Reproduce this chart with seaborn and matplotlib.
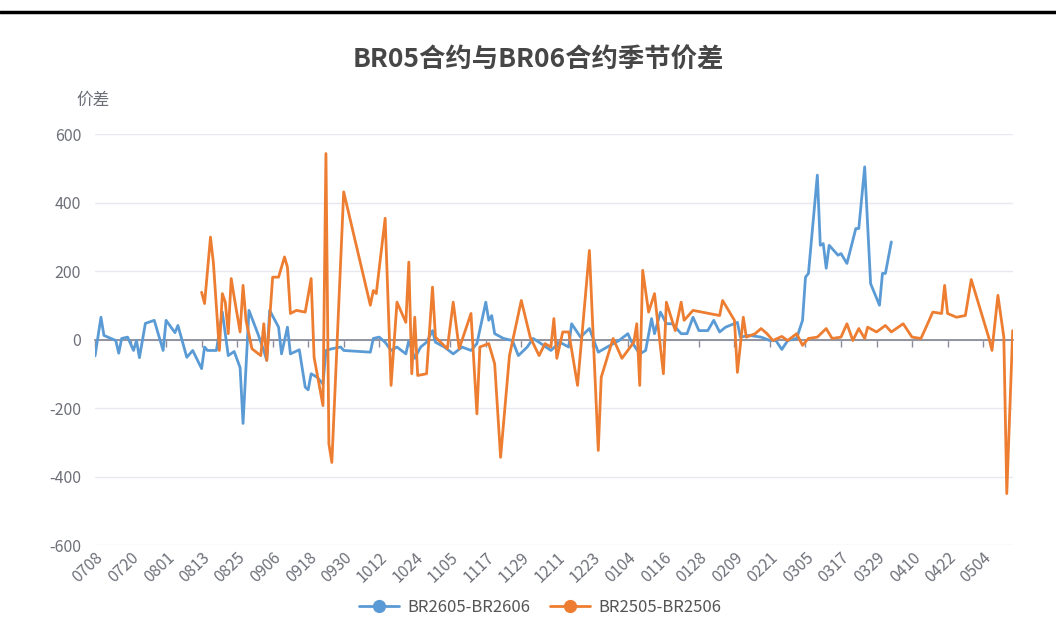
import pandas as pd
import matplotlib.pyplot as plt
from matplotlib.lines import Line2D
import seaborn as sns

# ── DATA ──────────────────────────────────────────────────
# every calendar day on the category axis (MMDD), 0708 .. 0514
DAYS = pd.date_range("2025-07-08", "2026-05-14", freq="D").strftime("%m%d").tolist()

TICK_LABELS = ["0708", "0720", "0801", "0813", "0825", "0906", "0918", "0930",
               "1012", "1024", "1105", "1117", "1129", "1211", "1223", "0104",
               "0116", "0128", "0209", "0221", "0305", "0317", "0329", "0410",
               "0422", "0504"]
Y_TICKS = [-600, -400, -200, 0, 200, 400, 600]

SERIES_NAMES = ["BR2605-BR2606", "BR2505-BR2506"]

BLUE_DATES = [
    "0708", "0710", "0711", "0715", "0716", "0717", "0719", "0721", "0722", "0723", "0725", "0728", "0730", "0731",
    "0801", "0804", "0805", "0808", "0810", "0813", "0814", "0815", "0818", "0820", "0822", "0824", "0826", "0827", "0829",
    "0901", "0903", "0904", "0905", "0908", "0909", "0911", "0912", "0915", "0917", "0918", "0919", "0921", "0923", "0924", "0926", "0929", "0930",
    "1009", "1010", "1012", "1014", "1016", "1018", "1021", "1022", "1024", "1026", "1028", "1030", "1031",
    "1103", "1106", "1109", "1112", "1114", "1117", "1118", "1119", "1120", "1123", "1126", "1128",
    "1201", "1203", "1205", "1209", "1212", "1215", "1216", "1219", "1222", "1225", "1228",
    "0101", "0104", "0105", "0108", "0110", "0112", "0113", "0115", "0117", "0119", "0122", "0124", "0126", "0128", "0131",
    "0202", "0204", "0206", "0210", "0211", "0214", "0218", "0221", "0223", "0225", "0227",
    "0302", "0304", "0305", "0306", "0309", "0310", "0311", "0312", "0313", "0316", "0317", "0319", "0322", "0323", "0325", "0327", "0330", "0331",
    "0401", "0403",
]
BLUE_VALUES = [
    -48, 65, 12, -3, -40, 3, 7, -32, -3, -53, 47, 56, -3, -32,
    56, 20, 41, -52, -32, -85, -22, -32, -32, 80, -47, -35, -82, -245, 85,
    17, -32, -61, 85, 36, -42, 36, -42, -30, -139, -147, -100, -110, -130, -32, -27, -22, -32,
    -37, 3, 7, -8, -32, -22, -42, -3, -55, -22, -8, 26, -8,
    -22, -42, -22, -32, -12, 109, 56, 70, 17, 3, -3, -47,
    -22, 3, -8, -32, -8, -22, 46, 7, 32, -37, -22,
    -3, 17, -3, -42, -32, 61, 17, 80, 46, 46, 17, 17, 65, 26, 26,
    56, 22, 36, 50, 7, 12, 7, -3, -3, -29, -3,
    3, 56, 182, 193, 480, 275, 280, 208, 275, 246, 251, 222, 324, 324, 504, 163, 100, 193,
    193, 285,
]

ORANGE_DATES = [
    "0813", "0814", "0816", "0817", "0819", "0820", "0821", "0822", "0823", "0824", "0826", "0827", "0828", "0830",
    "0902", "0903", "0904", "0906", "0908", "0910", "0911", "0912", "0914", "0917", "0919", "0920", "0923", "0924", "0925", "0926", "0930",
    "1009", "1010", "1011", "1014", "1016", "1018", "1021", "1022", "1023", "1024", "1025", "1028", "1030", "1031",
    "1104", "1106", "1108", "1112", "1114", "1115", "1118", "1120", "1122", "1125", "1129",
    "1202", "1205", "1207", "1209", "1210", "1211", "1213", "1215", "1218", "1222", "1225", "1226", "1230",
    "0102", "0106", "0107", "0108", "0109", "0111", "0113", "0116", "0117", "0120", "0122", "0123", "0126",
    "0204", "0205", "0209", "0210", "0212", "0213", "0216", "0218", "0220", "0222", "0225", "0227",
    "0302", "0304", "0306", "0309", "0312", "0314", "0317", "0319", "0321", "0323", "0325", "0326", "0329",
    "0401", "0403", "0407", "0410", "0413", "0415", "0417", "0420", "0421", "0422", "0425", "0428", "0430",
    "0506", "0507", "0509", "0511", "0512", "0514",
]
ORANGE_VALUES = [
    138, 105, 299, 222, -32, 134, 109, 17, 178, 124, 22, 158, 56, -27,
    -47, 46, -61, 182, 182, 241, 211, 76, 85, 80, 178, -52, -193, 543, -305, -359, 431,
    100, 143, 134, 354, -134, 109, 50, 226, -100, 65, -105, -100, 153, 7,
    -27, 109, -27, 76, -217, -22, -12, -71, -344, -47, 114,
    7, -47, -12, -22, 61, -55, 22, 22, -134, 260, -324, -110, 3,
    -55, -8, 46, -134, 202, 80, 134, -100, 109, 26, 109, 56, 85,
    70, 114, 56, -96, 65, 7, 17, 32, 17, -3, 9, -3,
    17, -17, 3, 7, 32, 3, 7, 46, -3, 32, 3, 36, 22,
    41, 22, 46, 7, 3, 41, 80, 76, 158, 76, 65, 70, 175,
    3, -32, 129, 7, -450, 26,
]

# ── STYLE ─────────────────────────────────────────────────
BLUE = "#5b9bd5"
ORANGE = "#ed7d31"
AXIS_GREY = "#6e7079"
GRID = "#e6e9f0"


def build_frame():
    pos = {d: i for i, d in enumerate(DAYS)}
    blue = pd.DataFrame({"day": [pos[d] for d in BLUE_DATES], "spread": BLUE_VALUES,
                         "series": SERIES_NAMES[0]})
    orange = pd.DataFrame({"day": [pos[d] for d in ORANGE_DATES], "spread": ORANGE_VALUES,
                           "series": SERIES_NAMES[1]})
    return pd.concat([blue, orange], ignore_index=True), pos


def main():
    sns.set_theme(style="white")
    plt.rcParams["font.family"] = ["Noto Sans CJK SC", "DejaVu Sans"]
    plt.rcParams["axes.unicode_minus"] = False

    df, pos = build_frame()

    fig = plt.figure(figsize=(10.56, 6.43), dpi=100)
    ax = fig.add_axes([0.090, 0.1524, 0.869, 0.6392])

    sns.lineplot(data=df, x="day", y="spread", hue="series", hue_order=SERIES_NAMES,
                 palette=[BLUE, ORANGE], estimator=None, linewidth=2.0,
                 legend=False, ax=ax)

    ax.set_xlim(0, len(DAYS) - 1)
    ax.set_ylim(-600, 600)
    ax.set_yticks(Y_TICKS)
    ax.set_xlabel("")
    ax.set_ylabel("")

    # axis line sits on zero, with its tick marks
    for s in ["top", "right", "left"]:
        ax.spines[s].set_visible(False)
    ax.spines["bottom"].set_position(("data", 0))
    ax.spines["bottom"].set_color("#8a8d99")
    ax.spines["bottom"].set_linewidth(1.3)
    ax.spines["bottom"].set_zorder(1)

    tick_pos = [pos[t] for t in TICK_LABELS]
    ax.set_xticks(tick_pos)
    ax.tick_params(axis="x", labelbottom=False, length=5, width=1, color="#8a8d99",
                   direction="out", bottom=True)
    ax.tick_params(axis="y", length=0, labelsize=11.5, labelcolor=AXIS_GREY, pad=10)
    ax.yaxis.grid(True, color=GRID, linewidth=1)
    ax.xaxis.grid(False)

    # date labels live under the plot area
    sec = ax.secondary_xaxis(0)
    sec.spines["bottom"].set_visible(False)
    sec.set_xticks(tick_pos, TICK_LABELS)
    sec.tick_params(length=0, pad=3, labelsize=11.5, labelcolor=AXIS_GREY)
    plt.setp(sec.get_xticklabels(), rotation=44, ha="right", rotation_mode="anchor")

    fig.text(93 / 1056, 1 - 100 / 643, "价差", ha="center", va="center",
             fontsize=12, color=AXIS_GREY)
    fig.text(538 / 1056, 1 - 60 / 643, "BR05合约与BR06合约季节价差", ha="center",
             va="center", fontsize=19, fontweight="bold", color="#464646")

    handles = [Line2D([], [], color=c, linewidth=2, marker="o", markersize=8.5)
               for c in (BLUE, ORANGE)]
    fig.legend(handles, SERIES_NAMES, loc="center", bbox_to_anchor=(540 / 1056, 1 - 607 / 643),
               ncol=2, frameon=False, fontsize=12, handlelength=2.4, columnspacing=1.2,
               handletextpad=0.5, labelcolor="#555555")

    # black rule across the top of the screenshot
    fig.add_artist(Line2D([0, 1], [1 - 12 / 643] * 2, color="black", linewidth=2.5,
                          transform=fig.transFigure))

    fig.savefig("out.png", dpi=100, facecolor="white")
    plt.close(fig)


if __name__ == "__main__":
    main()
